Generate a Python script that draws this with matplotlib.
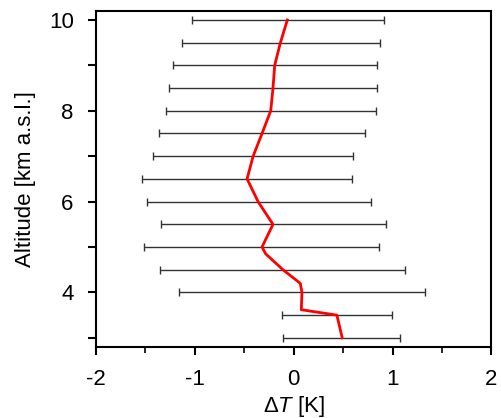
import numpy as np
import matplotlib.pyplot as plt
from matplotlib.ticker import MultipleLocator, FixedLocator

plt.rcParams['font.family'] = ['Liberation Sans', 'DejaVu Sans']
plt.rcParams['mathtext.fontset'] = 'custom'
plt.rcParams['mathtext.rm'] = 'Liberation Sans'
plt.rcParams['mathtext.it'] = 'Liberation Sans:italic'
plt.rcParams['axes.unicode_minus'] = False

# Error bar levels (altitude) and their left/right bounds
alt_bars = [10.0, 9.5, 9.0, 8.5, 8.0, 7.5, 7.0, 6.5, 6.0, 5.5, 5.0, 4.5, 4.0, 3.5, 3.0]
bar_lo = [-1.03, -1.13, -1.22, -1.26, -1.29, -1.36, -1.42, -1.53, -1.48, -1.34, -1.51, -1.35, -1.16, -0.12, -0.11]
bar_hi = [0.91, 0.875, 0.84, 0.84, 0.835, 0.72, 0.60, 0.59, 0.78, 0.93, 0.86, 1.13, 1.33, 0.99, 1.08]
bar_mid = [-0.064, -0.13, -0.19, -0.21, -0.232, -0.32, -0.41, -0.471, -0.36, -0.21, -0.32, -0.108, 0.084, 0.437, 0.49]

# Mean profile (red)
alt_curve = [10.0, 9.5, 9.0, 8.5, 8.0, 7.5, 7.0, 6.5, 6.0, 5.5, 5.0, 4.85, 4.5, 4.2, 4.0, 3.62, 3.5, 3.0]
dT_curve = [-0.064, -0.134, -0.192, -0.209, -0.232, -0.32, -0.41, -0.471, -0.36, -0.209, -0.32, -0.283,
            -0.108, 0.067, 0.084, 0.077, 0.437, 0.491]

fig = plt.figure(figsize=(5.02, 4.18), dpi=100)
ax = fig.add_axes([0.191, 0.170, 0.788, 0.804])

xerr = [np.array(bar_mid) - np.array(bar_lo), np.array(bar_hi) - np.array(bar_mid)]
ax.errorbar(bar_mid, alt_bars, xerr=xerr, fmt='none', ecolor='#333333', elinewidth=1.0,
            capsize=3, capthick=1.0)
ax.plot(dT_curve, alt_curve, color='red', lw=2)

ax.set_xlim(-2, 2)
ax.set_ylim(2.8, 10.2)
ax.xaxis.set_major_locator(MultipleLocator(1))
ax.xaxis.set_minor_locator(MultipleLocator(0.5))
ax.yaxis.set_major_locator(FixedLocator([4, 6, 8, 10]))
ax.yaxis.set_minor_locator(FixedLocator([3, 5, 7, 9]))
ax.tick_params(which='major', direction='out', length=6, width=1.5, labelsize=16)
ax.tick_params(axis='x', which='major', pad=10)
ax.tick_params(axis='y', which='major', pad=10)
ax.tick_params(axis='x', which='minor', direction='out', length=4, width=1.2)
ax.tick_params(axis='y', which='minor', direction='out', length=6, width=1.5)
for s in ax.spines.values():
    s.set_linewidth(1.5)

ax.set_xlabel(r'$\Delta\mathit{T}$ [K]', fontsize=16, labelpad=3)
ax.set_ylabel('Altitude [km a.s.l.]', fontsize=16, labelpad=9)

fig.savefig('out.png', dpi=100)
